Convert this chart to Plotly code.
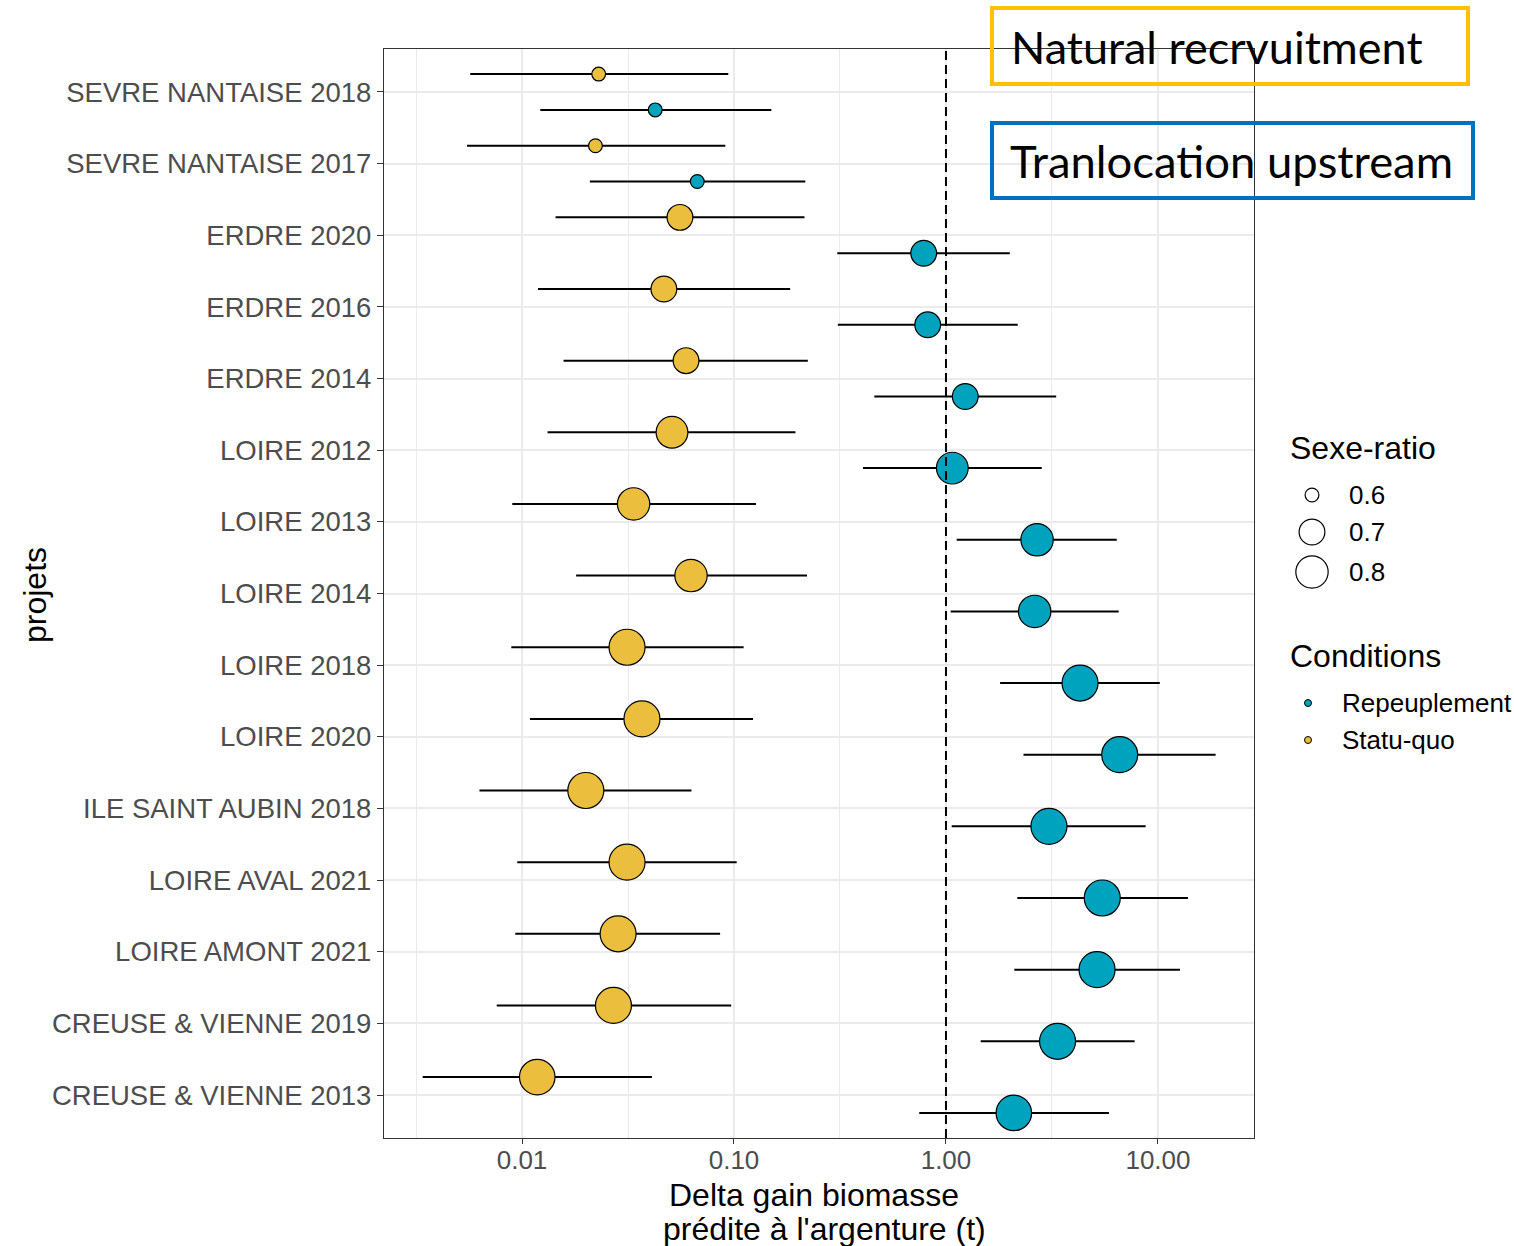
import math
import plotly.graph_objects as go

# ---------------- data ----------------
projects = ["SEVRE NANTAISE 2018", "SEVRE NANTAISE 2017", "ERDRE 2020", "ERDRE 2016",
            "ERDRE 2014", "LOIRE 2012", "LOIRE 2013", "LOIRE 2014", "LOIRE 2018",
            "LOIRE 2020", "ILE SAINT AUBIN 2018", "LOIRE AVAL 2021", "LOIRE AMONT 2021",
            "CREUSE & VIENNE 2019", "CREUSE & VIENNE 2013"]

sexe_ratio = [0.60, 0.60, 0.70, 0.70, 0.70, 0.79, 0.80, 0.80, 0.87, 0.87,
              0.87, 0.87, 0.87, 0.87, 0.86]

statu_quo_mean = [0.0230, 0.0222, 0.0556, 0.0467, 0.0594, 0.0510, 0.0336, 0.0627,
                  0.0313, 0.0368, 0.0200, 0.0313, 0.0284, 0.0270, 0.0118]
statu_quo_low = [0.0057, 0.0055, 0.0144, 0.0119, 0.0157, 0.0132, 0.0090, 0.0180,
                 0.0089, 0.0109, 0.0063, 0.0095, 0.0093, 0.0076, 0.0034]
statu_quo_high = [0.094, 0.091, 0.215, 0.184, 0.223, 0.195, 0.127, 0.221,
                  0.111, 0.123, 0.063, 0.103, 0.086, 0.097, 0.041]

repeup_mean = [0.0425, 0.0671, 0.785, 0.820, 1.233, 1.071, 2.69, 2.62,
               4.29, 6.60, 3.06, 5.46, 5.16, 3.36, 2.09]
repeup_low = [0.0122, 0.0209, 0.307, 0.309, 0.459, 0.406, 1.123, 1.052,
              1.80, 2.32, 1.064, 2.17, 2.10, 1.458, 0.748]
repeup_high = [0.150, 0.217, 2.00, 2.18, 3.31, 2.83, 6.39, 6.53,
               10.2, 18.7, 8.75, 13.85, 12.7, 7.76, 5.87]

x_tick_vals = [0.01, 0.1, 1, 10]
x_tick_text = ["0.01", "0.10", "1.00", "10.00"]
x_minor_vals = [10 ** -2.5, 10 ** -1.5, 10 ** -0.5, 10 ** 0.5]
reference_value = 1.0

legend_sizes = [0.6, 0.7, 0.8]
legend_size_labels = ["0.6", "0.7", "0.8"]
conditions = ["Repeuplement", "Statu-quo"]

# ---------------- style ----------------
COL_REP = "#00A3BE"
COL_SQ = "#ECBE3E"
FONT = "Liberation Sans, Arial, sans-serif"
W, H = 1514, 1246
L, R, T, B = 384, 0, 49, 108
PLOT_RIGHT = 1254
PW = W - L - R
PH = H - T - B
LINE_W = 1.2


def px2x(px):
    return (px - L) / PW


def py2y(py):
    return (H - B - py) / PH


def diam(s):
    return 9.8 + 51.8 * math.sqrt(max(s - 0.59, 0.0))


n = len(projects)
dodge = 0.25
y_sq = [i - dodge for i in range(n)]
y_rep = [i + dodge for i in range(n)]
sizes = [diam(s) - LINE_W for s in sexe_ratio]

fig = go.Figure()

fig.add_trace(go.Scatter(
    x=statu_quo_mean, y=y_sq, mode="markers", name="Statu-quo", showlegend=False,
    marker=dict(color=COL_SQ, size=sizes, opacity=1,
                line=dict(color="black", width=LINE_W)),
    error_x=dict(type="data", symmetric=False,
                 array=[h - m for h, m in zip(statu_quo_high, statu_quo_mean)],
                 arrayminus=[m - l for m, l in zip(statu_quo_mean, statu_quo_low)],
                 width=0, thickness=2, color="black"),
    xaxis="x", yaxis="y"))

fig.add_trace(go.Scatter(
    x=repeup_mean, y=y_rep, mode="markers", name="Repeuplement", showlegend=False,
    marker=dict(color=COL_REP, size=sizes, opacity=1,
                line=dict(color="black", width=LINE_W)),
    error_x=dict(type="data", symmetric=False,
                 array=[h - m for h, m in zip(repeup_high, repeup_mean)],
                 arrayminus=[m - l for m, l in zip(repeup_mean, repeup_low)],
                 width=0, thickness=2, color="black"),
    xaxis="x", yaxis="y"))

y_range = [n - 1 + 0.6, -0.6]
fig.add_trace(go.Scatter(
    x=[reference_value, reference_value], y=y_range, mode="lines", showlegend=False,
    line=dict(color="black", width=2, dash="9px,5px"), hoverinfo="skip",
    xaxis="x", yaxis="y"))

# ---------------- manual legends (axis pair 2 in pixel-like units) ----------------
LEG_X0 = 1280
size_key_x = 1312
size_key_y = [495, 532, 572]
cond_key_x = 1308
cond_key_y = [703, 740]

fig.add_trace(go.Scatter(
    x=[size_key_x] * len(legend_sizes), y=size_key_y, mode="markers", showlegend=False,
    marker=dict(color="white", size=[diam(s) - LINE_W for s in legend_sizes], opacity=1,
                line=dict(color="black", width=LINE_W)),
    hoverinfo="skip", xaxis="x2", yaxis="y2"))
fig.add_trace(go.Scatter(
    x=[cond_key_x] * len(conditions), y=cond_key_y, mode="markers", showlegend=False,
    marker=dict(color=[COL_REP, COL_SQ], size=7, opacity=1,
                line=dict(color="black", width=1)),
    hoverinfo="skip", xaxis="x2", yaxis="y2"))

annotations = []
annotations.append(dict(x=1288, y=448, xref="x2", yref="y2", text="Sexe-ratio",
                        showarrow=False, xanchor="left", yanchor="middle",
                        font=dict(family=FONT, size=32, color="black")))
for lab, yy in zip(legend_size_labels, size_key_y):
    annotations.append(dict(x=1347, y=yy, xref="x2", yref="y2", text=lab,
                            showarrow=False, xanchor="left", yanchor="middle",
                            font=dict(family=FONT, size=26, color="black")))
annotations.append(dict(x=1288, y=656, xref="x2", yref="y2", text="Conditions",
                        showarrow=False, xanchor="left", yanchor="middle",
                        font=dict(family=FONT, size=32, color="black")))
for lab, yy in zip(conditions, cond_key_y):
    annotations.append(dict(x=1340, y=yy, xref="x2", yref="y2", text=lab,
                            showarrow=False, xanchor="left", yanchor="middle",
                            font=dict(family=FONT, size=26, color="black")))

# axis titles
annotations.append(dict(x=px2x(35), y=py2y(595), xref="paper", yref="paper", text="projets",
                        textangle=-90, showarrow=False, xanchor="center", yanchor="middle",
                        font=dict(family=FONT, size=32, color="black")))
annotations.append(dict(x=px2x(814), y=py2y(1195), xref="paper", yref="paper",
                        text="Delta gain biomasse", showarrow=False,
                        xanchor="center", yanchor="middle",
                        font=dict(family=FONT, size=32, color="black")))
annotations.append(dict(x=px2x(824), y=py2y(1229), xref="paper", yref="paper",
                        text="prédite à l'argenture (t)", showarrow=False,
                        xanchor="center", yanchor="middle",
                        font=dict(family=FONT, size=32, color="black")))

# overlay boxes
annotations.append(dict(x=px2x(1009), y=py2y(47), xref="paper", yref="paper",
                        text="Natural recrvuitment", showarrow=False,
                        xanchor="left", yanchor="middle",
                        font=dict(family="Lato", size=45, color="black")))
annotations.append(dict(x=px2x(1008), y=py2y(161), xref="paper", yref="paper",
                        text="Tranlocation upstream", showarrow=False,
                        xanchor="left", yanchor="middle",
                        font=dict(family="Lato", size=45.4, color="black")))

shapes = [
    dict(type="rect", xref="paper", yref="paper", x0=px2x(992), x1=px2x(1468),
         y0=py2y(84), y1=py2y(8), line=dict(color="#FFC000", width=4),
         fillcolor="rgba(0,0,0,0)", layer="above"),
    dict(type="rect", xref="paper", yref="paper", x0=px2x(992), x1=px2x(1473),
         y0=py2y(198), y1=py2y(123), line=dict(color="#0070C0", width=4),
         fillcolor="rgba(0,0,0,0)", layer="above"),
]

fig.update_layout(
    width=W, height=H,
    margin=dict(l=L, r=R, t=T, b=B, autoexpand=False),
    paper_bgcolor="white", plot_bgcolor="white",
    showlegend=False, hovermode=False,
    font=dict(family=FONT),
    xaxis=dict(
        type="log", domain=[0, (PLOT_RIGHT - L) / PW],
        range=[-2.651, 1.453],
        tickmode="array", tickvals=x_tick_vals, ticktext=x_tick_text,
        ticks="outside", ticklen=5, tickwidth=1.2, tickcolor="#333333",
        ticklabelstandoff=-6,
        tickfont=dict(family=FONT, size=26, color="#4D4D4D"),
        showgrid=True, gridcolor="#EBEBEB", gridwidth=1.6,
        minor=dict(tickvals=x_minor_vals, showgrid=True, gridcolor="#EBEBEB",
                   gridwidth=1.2, ticks=""),
        showline=True, mirror=True, linecolor="#333333", linewidth=LINE_W,
        zeroline=False, anchor="y",
    ),
    yaxis=dict(
        domain=[0, 1], range=y_range,
        tickmode="array", tickvals=list(range(n)), ticktext=projects,
        ticks="outside", ticklen=6, tickwidth=1.2, tickcolor="#333333",
        tickfont=dict(family=FONT, size=27.5, color="#4D4D4D"),
        showgrid=True, gridcolor="#EBEBEB", gridwidth=1.6,
        showline=True, mirror=True, linecolor="#333333", linewidth=LINE_W,
        zeroline=False, anchor="x",
    ),
    xaxis2=dict(domain=[(LEG_X0 - L) / PW, 1], range=[LEG_X0, W], visible=False,
                anchor="y2", fixedrange=True),
    yaxis2=dict(domain=[0, 1], range=[H - B, T], visible=False, anchor="x2",
                fixedrange=True),
    annotations=annotations,
    shapes=shapes,
)

fig.write_html("out.html", config={"displayModeBar": False},
               post_script="document.body.style.margin='0';document.body.style.overflow='hidden';")
